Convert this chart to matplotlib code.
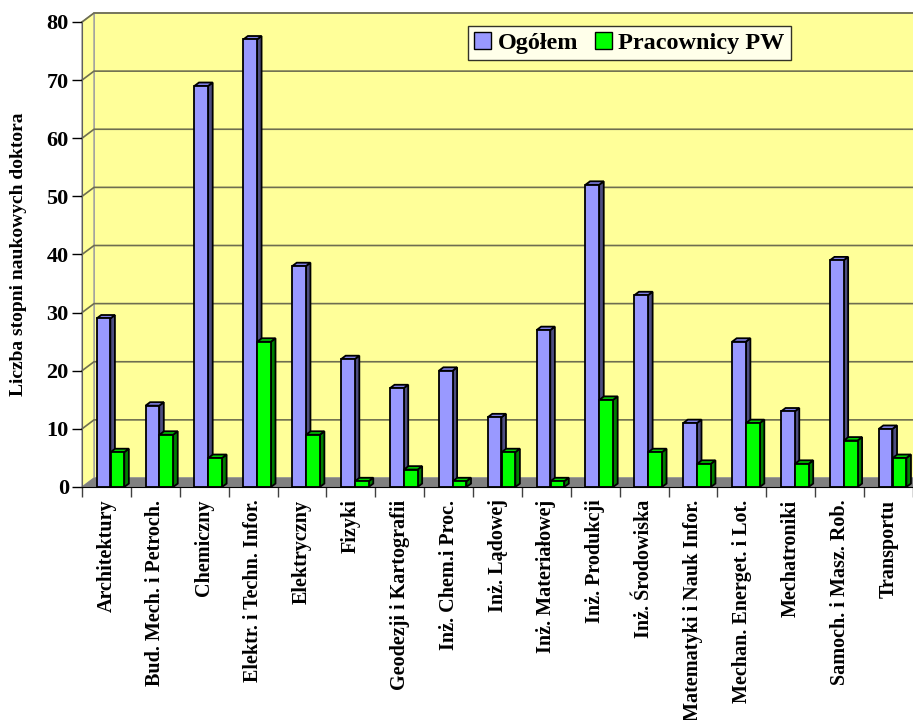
import numpy as np
import matplotlib
matplotlib.use('Agg')
import matplotlib.pyplot as plt
import matplotlib.patches as mpatches
from matplotlib.transforms import IdentityTransform

plt.rcParams['font.family'] = ['Liberation Serif', 'DejaVu Serif']
plt.rcParams['font.weight'] = 'bold'

categories = ['Architektury', 'Bud. Mech. i Petroch.', 'Chemiczny', 'Elektr. i Techn. Infor.',
              'Elektryczny', 'Fizyki', 'Geodezji i Kartografii', 'Inż. Chem.i Proc.',
              'Inż. Lądowej', 'Inż. Materiałowej', 'Inż. Produkcji', 'Inż. Środowiska',
              'Matematyki i Nauk Infor.', 'Mechan. Energet. i Lot.', 'Mechatroniki',
              'Samoch. i Masz. Rob.', 'Transportu']
ogolem = [29, 14, 69, 77, 38, 22, 17, 20, 12, 27, 52, 33, 11, 25, 13, 39, 10]
pracownicy = [6, 9, 5, 25, 9, 1, 3, 1, 6, 1, 15, 6, 4, 11, 4, 8, 5]
series_names = ['Ogółem', 'Pracownicy PW']
yticks = [0, 10, 20, 30, 40, 50, 60, 70, 80]

# colours: front, top, side
blue = ('#9999ff', '#8080e6', '#4d4d80')
green = ('#00ff00', '#00cc00', '#008000')

W, H = 913, 720
fig = plt.figure(figsize=(W / 100, H / 100), dpi=100)
ax = fig.add_axes([82 / W, 233 / H, 831 / W, 465 / H])
n = len(categories)
ax.set_xlim(0, n)
ax.set_ylim(0, 80)
ax.set_facecolor('none')

DX, DY = 12.0, 9.0      # wall depth in pixels
BD = 0.38               # bar depth as fraction of wall depth


def pt(x, y, d=0.0):
    p = ax.transData.transform((x, y))
    return (p[0] + d * DX, p[1] + d * DY)


def poly(verts, fc, ec, lw=1.0, z=1):
    ax.add_patch(mpatches.Polygon(verts, closed=True, facecolor=fc, edgecolor=ec,
                                  linewidth=lw, transform=IdentityTransform(),
                                  clip_on=False, zorder=z))


# walls and floor
poly([pt(0, 0, 1), pt(n, 0, 1), pt(n, 80, 1), pt(0, 80, 1)], '#ffff99', '#a0a0a0', 1.2, 0.5)
poly([pt(0, 0, 0), pt(0, 0, 1), pt(0, 80, 1), pt(0, 80, 0)], '#ffff99', '#a0a0a0', 1.0, 0.5)
poly([pt(0, 0, 0), pt(n, 0, 0), pt(n, 0, 1), pt(0, 0, 1)], '#808080', '#808080', 0.5, 0.6)
for v in yticks[1:]:
    a, b, c = pt(0, v, 0), pt(0, v, 1), pt(n, v, 1)
    ax.plot([a[0], b[0], c[0]], [a[1], b[1], c[1]], color='#6e6e50', lw=1.2,
            transform=IdentityTransform(), clip_on=False, zorder=0.8)

# 3D bars
width = 0.28
offsets = [0.30, 0.585]
z = 2
for i in range(n):
    for s, (vals, cols) in enumerate([(ogolem, blue), (pracownicy, green)]):
        x0 = i + offsets[s]
        x1 = x0 + width
        v = vals[i]
        poly([pt(x1, 0, 0), pt(x1, v, 0), pt(x1, v, BD), pt(x1, 0, BD)], cols[2], 'black', 1.3, z)
        poly([pt(x0, v, 0), pt(x1, v, 0), pt(x1, v, BD), pt(x0, v, BD)], cols[1], 'black', 1.3, z)
        ax.bar(x0, v, width=width, align='edge', color=cols[0], edgecolor='black',
               linewidth=1.3, zorder=z + 0.5, clip_on=False)
        z += 1

# axes
for sp in ['top', 'right']:
    ax.spines[sp].set_visible(False)
ax.spines['left'].set_color('#606060')
ax.spines['bottom'].set_color('black')
ax.spines['left'].set_zorder(200)
ax.spines['bottom'].set_zorder(200)
ax.set_yticks(yticks)
ax.tick_params(axis='y', length=7.5, width=1, pad=2, labelsize=16)
ax.set_xticks(np.arange(n) + 0.5)
ax.set_xticklabels(categories, rotation=90, fontsize=14.5, va='top')
ax.set_xticks(np.arange(n + 1), minor=True)
ax.tick_params(axis='x', which='major', length=0, pad=9)
ax.tick_params(axis='x', which='minor', length=7.5, width=1, color='#404040')

fig.text(19 / W, 1 - 254 / H, 'Liczba stopni naukowych doktora', rotation=90,
         ha='center', va='center', fontsize=14, fontweight='bold')

handles = [mpatches.Patch(facecolor=blue[0], edgecolor='black', label=series_names[0]),
           mpatches.Patch(facecolor=green[0], edgecolor='black', label=series_names[1])]
leg = fig.legend(handles=handles, loc='center', bbox_to_anchor=(629.5 / W, 1 - 43 / H),
                 ncol=2, frameon=True, fancybox=False, prop={'size': 17.5, 'weight': 'bold'},
                 handlelength=0.7, handleheight=0.7, handletextpad=0.25, columnspacing=0.7,
                 borderpad=0.25, borderaxespad=0)
leg.get_frame().set_edgecolor('black')
leg.get_frame().set_linewidth(1.0)

fig.savefig('out.png', dpi=100)
